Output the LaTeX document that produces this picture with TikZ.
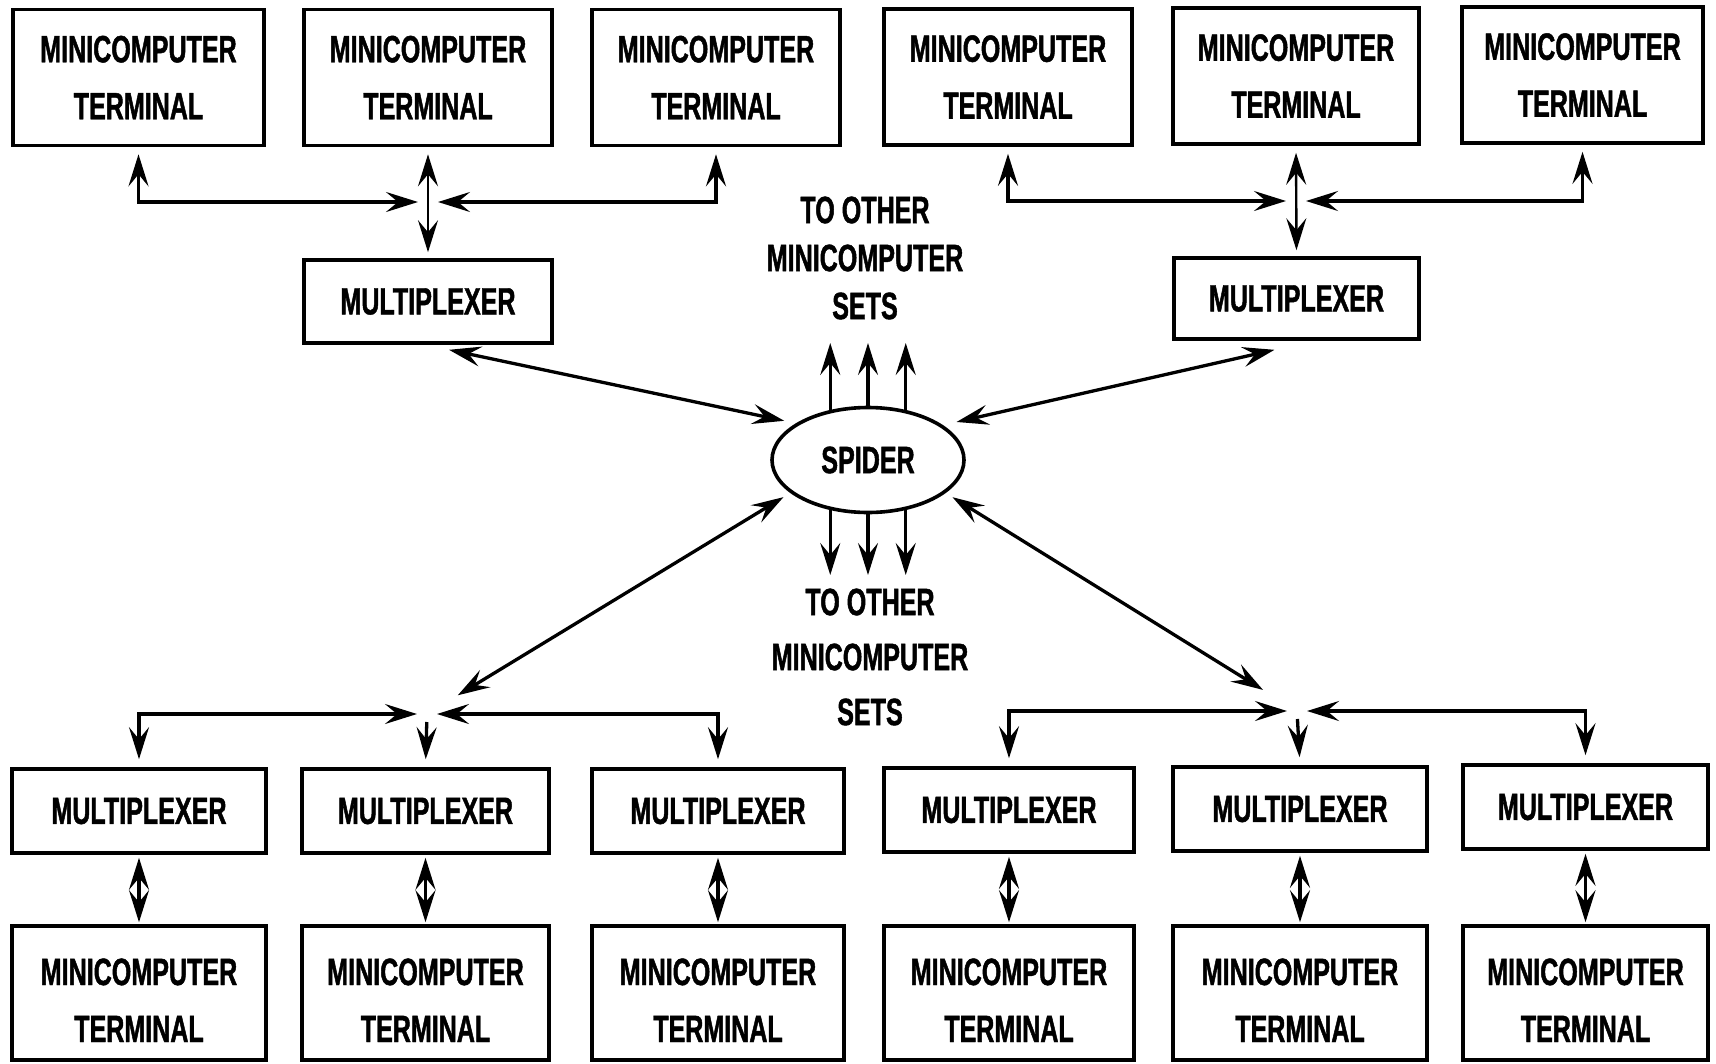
\documentclass[tikz,border=0pt]{standalone}
\usepackage{fontspec}
\usetikzlibrary{arrows.meta,shapes.geometric}
\newfontfamily\lblfont{Liberation Sans}[FakeStretch=0.66,FakeBold=1.2]
\newcommand{\lbl}{\lblfont\bfseries\fontsize{38}{57}\selectfont}
\begin{document}
\begin{tikzpicture}[x=1pt,y=-1pt,
  >={Stealth[length=32pt,width=20pt,inset=12pt]},
  box/.style={draw,line width=3.6pt,inner sep=0pt,align=center,font=\lbl},
  term/.style={box,minimum width=248pt,minimum height=136pt},
  lowterm/.style={term,minimum height=134pt,text height=98pt,text depth=0pt},
  mux/.style={box,minimum width=248pt,minimum height=83pt},
  link/.style={line width=3.3pt,<->},
  oneway/.style={line width=3.3pt,->},
  note/.style={align=center,inner sep=0pt}]
\useasboundingbox (0,0) rectangle (1716,1063);

% upper terminals and multiplexers
\node[term,minimum width=251pt] (T1) at (138.5,77.5) {MINICOMPUTER\\TERMINAL};
\node[term] (T2) at (428,77.5) {MINICOMPUTER\\TERMINAL};
\node[term] (T3) at (716,77.5) {MINICOMPUTER\\TERMINAL};
\node[term] (T4) at (1008,77) {MINICOMPUTER\\TERMINAL};
\node[term,minimum width=246pt] (T5) at (1296,76) {MINICOMPUTER\\TERMINAL};
\node[term,minimum width=241pt] (T6) at (1582.5,75) {MINICOMPUTER\\TERMINAL};
\node[mux] (M1) at (428,301.5) {MULTIPLEXER};
\node[mux,minimum width=245pt,minimum height=81pt] (M2) at (1296.5,298.5) {MULTIPLEXER};

% central switch
\node[draw,ellipse,line width=3.6pt,minimum width=192pt,minimum height=105pt,
      inner sep=0pt,font=\lbl] (S) at (868,460) {SPIDER};
\node[note,font=\lblfont\bfseries\fontsize{38}{48}\selectfont] (upnote) at (865,258)
  {TO OTHER\\MINICOMPUTER\\SETS};
\node[note,font=\lblfont\bfseries\fontsize{38}{55}\selectfont] (dnnote) at (870,657)
  {TO OTHER\\MINICOMPUTER\\SETS};

% lower multiplexers and terminals
\node[mux,minimum width=254pt,minimum height=84pt] (B1) at (139,811) {MULTIPLEXER};
\node[mux,minimum width=247pt,minimum height=84pt] (B2) at (425.5,811) {MULTIPLEXER};
\node[mux,minimum width=252pt,minimum height=84pt] (B3) at (718,811) {MULTIPLEXER};
\node[mux,minimum width=250pt,minimum height=84pt] (B4) at (1009,810) {MULTIPLEXER};
\node[mux,minimum width=254pt,minimum height=84pt] (B5) at (1300,809) {MULTIPLEXER};
\node[mux,minimum width=245pt,minimum height=84pt] (B6) at (1585.5,807) {MULTIPLEXER};
\node[lowterm,minimum width=254pt] (L1) at (139,993) {MINICOMPUTER\\TERMINAL};
\node[lowterm,minimum width=247pt] (L2) at (425.5,993) {MINICOMPUTER\\TERMINAL};
\node[lowterm,minimum width=252pt] (L3) at (718,993) {MINICOMPUTER\\TERMINAL};
\node[lowterm,minimum width=250pt] (L4) at (1009,993) {MINICOMPUTER\\TERMINAL};
\node[lowterm,minimum width=254pt] (L5) at (1300,993) {MINICOMPUTER\\TERMINAL};
\node[lowterm,minimum width=245pt] (L6) at (1585.5,993) {MINICOMPUTER\\TERMINAL};

% junction points
\coordinate (J1) at (428,202);
\coordinate (J2) at (1296,201);
\coordinate (J3) at (427,714);
\coordinate (J4) at (1297,711);
\coordinate (upend) at (868,343);
\coordinate (dnend) at (868,575);

% upper left group
\draw[link,shorten <=7pt,shorten >=10pt] (T1.south) |- (J1);
\draw[link,shorten <=7pt,shorten >=10pt] (T3.south) |- (J1);
\draw[link,line width=2.4pt,shorten <=7pt,shorten >=6pt] (T2.south) -- (M1.north);

% upper right group
\draw[link,shorten <=7pt,shorten >=10pt] (T4.south) |- (J2);
\draw[link,shorten <=7pt,shorten >=10pt] (T6.south) |- (J2);
\draw[link,line width=2.4pt,shorten <=7pt,shorten >=6pt] (T5.south) -- (M2.north);

% lower left group
\draw[link,shorten <=10pt,shorten >=8pt] (J3) -| (B1.north);
\draw[link,shorten <=10pt,shorten >=8pt] (J3) -| (B3.north);
\draw[oneway,shorten <=8pt,shorten >=8pt] (J3) -- (B2.north);

% lower right group
\draw[link,shorten <=10pt,shorten >=8pt] (J4) -| (B4.north);
\draw[link,shorten <=10pt,shorten >=8pt] (J4) -| (B6.north);
\draw[oneway,shorten <=8pt,shorten >=8pt] (J4) -- (B5.north);

% multiplexer to terminal links
\foreach \m/\t in {B1/L1,B2/L2,B3/L3,B4/L4,B5/L5,B6/L6}
  \draw[link,shorten <=3pt,shorten >=2pt] (\m.south) -- (\t.north);

% links to the spider
\draw[link,shorten >=12pt] ([shift={(21,5)}]M1.south) -- (S.153);
\draw[link,shorten >=14pt] ([shift={(-22,9)}]M2.south) -- (S.25);
\draw[link,shorten <=8pt,shorten >=36pt] (S.203) -- (J3);
\draw[link,shorten <=8pt,shorten >=40pt] (S.337) -- (J4);

% to other minicomputer sets
\foreach \a in {127,90,53}
  \draw[oneway] (S.\a) -- (S.\a |- upend);
\foreach \a in {233,270,307}
  \draw[oneway] (S.\a) -- (S.\a |- dnend);
\end{tikzpicture}
\end{document}
